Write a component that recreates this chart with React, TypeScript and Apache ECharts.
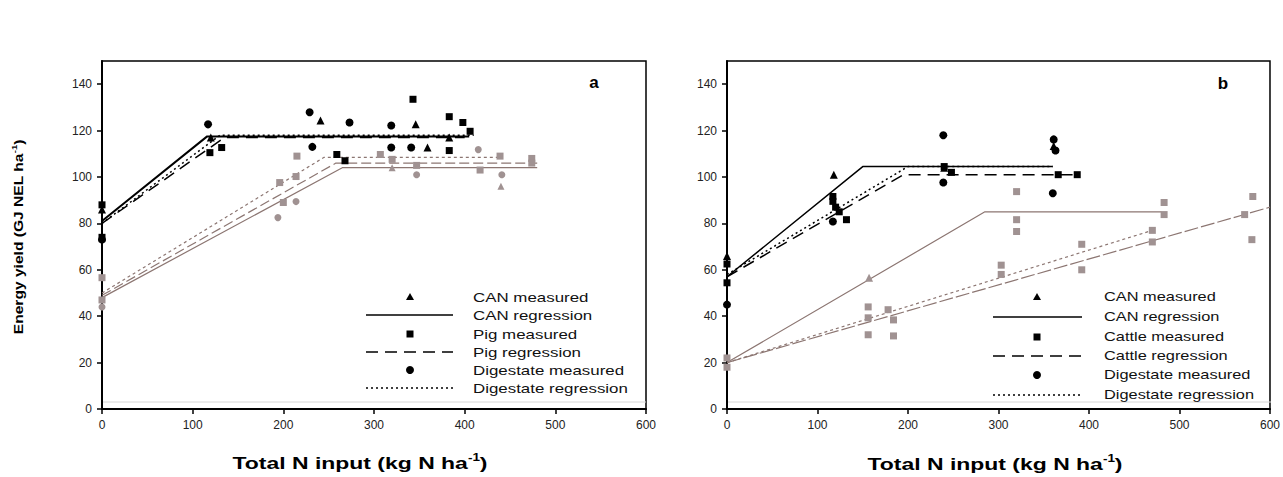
import React, { useEffect, useRef } from "react";
import * as echarts from "echarts";

type P = [number, number];

// ---------------- Panel a data ----------------
const xTicks = [0, 100, 200, 300, 400, 500, 600];
const yTicks = [0, 20, 40, 60, 80, 100, 120, 140];

const aCanMeasured: P[] = [[0, 86], [120, 117], [241, 124.4], [346, 122.7], [359, 112.7], [383, 117]];
const aPigMeasured: P[] = [[0, 88], [0, 74], [119, 110.5], [132, 112.7], [259, 109.7], [268, 107], [343, 133.5], [383, 126], [398, 123.5], [406, 119.7], [383, 111.4]];
const aDigMeasured: P[] = [[0, 73], [117, 122.7], [229, 127.9], [232, 113], [273, 123.5], [319, 122.2], [319, 112.7], [341, 112.7]];
const aCanRegression: P[] = [[0, 81], [116, 117.5], [405, 117.5]];
const aPigRegression: P[] = [[0, 80], [135, 117], [400, 117]];
const aDigRegression: P[] = [[0, 80], [130, 118], [410, 118]];

const aGraySquares: P[] = [[0, 56.6], [0, 47], [196, 97.6], [214, 100.2], [215, 109], [200, 89], [307, 109.7], [320, 107.6], [347, 105], [417, 103], [439, 109], [474, 108], [474, 106]];
const aGrayCircles: P[] = [[0, 44], [194, 82.5], [214, 89.4], [347, 101], [441, 101], [415, 111.8]];
const aGrayTriangles: P[] = [[440, 96], [320, 104]];
const aGraySolid: P[] = [[0, 48], [265, 104], [480, 104]];
const aGrayDashed: P[] = [[0, 49], [258, 106], [480, 106]];
const aGrayDotted: P[] = [[0, 50], [245, 108.5], [440, 108.5]];

// ---------------- Panel b data ----------------
const bCanMeasured: P[] = [[0, 66], [118, 101], [240, 104], [361, 113.4]];
const bCattleMeasured: P[] = [[0, 62.5], [0, 54.4], [117, 91.6], [117, 89.5], [120, 87], [124, 85], [132, 81.6], [240, 104.5], [248, 102], [366, 101], [387, 101]];
const bDigMeasured: P[] = [[0, 45], [117, 80.8], [239, 118], [239, 97.6], [361, 116.2], [363, 111.4], [360, 93]];
const bCanRegression: P[] = [[0, 57], [150, 104.5], [360, 104.5]];
const bCattleRegression: P[] = [[0, 57], [195, 101], [385, 101]];
const bDigRegression: P[] = [[0, 58], [200, 104.5], [360, 104.5]];

const bGraySquares: P[] = [[0, 22], [0, 18], [156, 44], [156, 39.3], [156, 32], [178, 42.8], [184, 38.4], [184, 31.5], [320, 93.7], [320, 81.6], [320, 76.5], [303, 62], [303, 58], [392, 71], [392, 60], [470, 77], [470, 72], [483, 89], [483, 83.8], [581, 91.6], [572, 83.8], [603, 87], [580, 73]];
const bGrayTriangles: P[] = [[157, 56.6]];
const bGraySolid: P[] = [[0, 20], [285, 85], [480, 85]];
const bGrayDotted: P[] = [[0, 20], [470, 77]];
const bGrayDashed: P[] = [[0, 20], [600, 87]];

const legendA = ["CAN measured", "CAN regression", "Pig measured", "Pig regression", "Digestate measured", "Digestate regression"];
const legendB = ["CAN measured", "CAN regression", "Cattle measured", "Cattle regression", "Digestate measured", "Digestate regression"];
const legendKinds = ["triangle", "solid", "square", "dashed", "circle", "dotted"];

const FONT = '"Liberation Sans", Arial, sans-serif';
const BLACK = "#000";
const GRAY_PT = "#a09292";
const GRAY_LN = "#8c7672";

function scatter(name: string, data: P[], symbol: string, color: string, idx: number, size = 8) {
  return {
    name,
    type: "scatter",
    xAxisIndex: idx,
    yAxisIndex: idx,
    data,
    symbol,
    symbolSize: size,
    itemStyle: { color, opacity: 1 },
    z: 3,
  };
}

function line(name: string, data: P[], dash: any, color: string, idx: number, width = 1.5) {
  return {
    name,
    type: "line",
    xAxisIndex: idx,
    yAxisIndex: idx,
    data,
    symbol: "none",
    lineStyle: { color, width, type: dash },
    z: 2,
  };
}

function legendGraphic(lineX1: number, lineX2: number, symX: number, textX: number, rows: number[], labels: string[], sx: number) {
  const els: any[] = [];
  labels.forEach((lab, i) => {
    const y = rows[i];
    const kind = legendKinds[i];
    if (kind === "triangle") {
      els.push({ type: "polygon", shape: { points: [[symX, y - 4], [symX - 4, y + 3], [symX + 4, y + 3]] }, style: { fill: BLACK } });
    } else if (kind === "square") {
      els.push({ type: "rect", shape: { x: symX - 3.5, y: y - 3.5, width: 7, height: 7 }, style: { fill: BLACK } });
    } else if (kind === "circle") {
      els.push({ type: "circle", shape: { cx: symX, cy: y, r: 4 }, style: { fill: BLACK } });
    } else {
      const dash = kind === "solid" ? null : kind === "dashed" ? [12, 7] : [2, 3];
      els.push({ type: "line", shape: { x1: lineX1, y1: y, x2: lineX2, y2: y }, style: { stroke: BLACK, lineWidth: 1.5, lineDash: dash } });
    }
    els.push({
      type: "text",
      x: textX,
      y,
      scaleX: sx,
      style: { text: lab, fontSize: 13, fontFamily: FONT, fill: "#111", align: "left", verticalAlign: "middle" },
    });
  });
  return els;
}

function axisTitle(x: number, y: number, text: string, rotation = 0, sx = 1.35, size = 17) {
  return {
    type: "text",
    x,
    y,
    rotation,
    scaleX: sx,
    style: {
      text: `{a|${text}}{s|-1}{a|)}`,
      align: "center",
      verticalAlign: "middle",
      rich: {
        a: { fontSize: size, fontWeight: "bold", fontFamily: FONT, fill: "#000", lineHeight: size + 3 },
        s: { fontSize: Math.round(size * 0.6), fontWeight: "bold", fontFamily: FONT, fill: "#000", verticalAlign: "top", lineHeight: size + 3 },
      },
    },
  };
}

export default function App() {
  const ref = useRef<HTMLDivElement>(null);
  useEffect(() => {
    if (!ref.current) return;
    const chart = echarts.init(ref.current, null, { renderer: "svg" });

    const xAxis = (gi: number) => ({
      type: "value",
      gridIndex: gi,
      min: xTicks[0],
      max: xTicks[xTicks.length - 1],
      interval: xTicks[1] - xTicks[0],
      splitLine: { show: false },
      axisLine: { show: true, onZero: false, lineStyle: { color: "#000", width: 2 } },
      axisTick: { show: true, length: 5, lineStyle: { color: "#000", width: 1.5 } },
      axisLabel: { fontSize: 12, fontFamily: FONT, color: "#222", margin: 10 },
    });
    const yAxis = (gi: number) => ({
      type: "value",
      gridIndex: gi,
      min: yTicks[0],
      max: 150,
      interval: yTicks[1] - yTicks[0],
      splitLine: { show: false },
      axisLine: { show: true, onZero: false, lineStyle: { color: "#000", width: 2 } },
      axisTick: { show: true, length: 5, lineStyle: { color: "#000", width: 1.5 } },
      axisLabel: { fontSize: 12, fontFamily: FONT, color: "#222", margin: 10, showMaxLabel: false },
    });

    chart.setOption({
      animation: false,
      backgroundColor: "#fff",
      grid: [
        { left: 102, right: 637, top: 61, bottom: 68, show: true, borderColor: "#000", borderWidth: 1.5, backgroundColor: "transparent" },
        { left: 727, right: 12, top: 61, bottom: 68, show: true, borderColor: "#000", borderWidth: 1.5, backgroundColor: "transparent" },
      ],
      xAxis: [xAxis(0), xAxis(1)],
      yAxis: [yAxis(0), yAxis(1)],
      series: [
        line("Gray solid a", aGraySolid, "solid", GRAY_LN, 0, 1.2),
        line("Gray dashed a", aGrayDashed, [10, 4], GRAY_LN, 0, 1.2),
        line("Gray dotted a", aGrayDotted, [3, 3], GRAY_LN, 0, 1.2),
        scatter("Gray squares a", aGraySquares, "rect", GRAY_PT, 0, 7),
        scatter("Gray circles a", aGrayCircles, "circle", GRAY_PT, 0, 7),
        scatter("Gray triangles a", aGrayTriangles, "triangle", GRAY_PT, 0, 7),
        line("CAN regression", aCanRegression, "solid", BLACK, 0, 2),
        line("Pig regression", aPigRegression, [12, 7], BLACK, 0, 1.5),
        line("Digestate regression", aDigRegression, [2, 3], BLACK, 0, 1.5),
        scatter("CAN measured", aCanMeasured, "triangle", BLACK, 0),
        scatter("Pig measured", aPigMeasured, "rect", BLACK, 0, 7),
        scatter("Digestate measured", aDigMeasured, "circle", BLACK, 0),

        line("Gray solid b", bGraySolid, "solid", GRAY_LN, 1, 1.2),
        line("Gray dotted b", bGrayDotted, [3, 3], GRAY_LN, 1, 1.2),
        line("Gray dashed b", bGrayDashed, [14, 3], GRAY_LN, 1, 1.2),
        scatter("Gray squares b", bGraySquares, "rect", GRAY_PT, 1, 7),
        scatter("Gray triangles b", bGrayTriangles, "triangle", GRAY_PT, 1, 8),
        line("CAN regression b", bCanRegression, "solid", BLACK, 1, 1.5),
        line("Cattle regression", bCattleRegression, [12, 7], BLACK, 1, 1.5),
        line("Digestate regression b", bDigRegression, [2, 3], BLACK, 1, 1.5),
        scatter("CAN measured b", bCanMeasured, "triangle", BLACK, 1),
        scatter("Cattle measured", bCattleMeasured, "rect", BLACK, 1, 7),
        scatter("Digestate measured b", bDigMeasured, "circle", BLACK, 1),
      ],
      graphic: [
        { type: "line", shape: { x1: 102, y1: 402, x2: 646, y2: 402 }, style: { stroke: "#d6d6d6", lineWidth: 1 }, silent: true },
        { type: "line", shape: { x1: 727, y1: 402, x2: 1271, y2: 402 }, style: { stroke: "#d6d6d6", lineWidth: 1 }, silent: true },
        ...legendGraphic(366, 453, 410, 473, [297, 315, 334, 352, 370, 388], legendA, 1.3),
        ...legendGraphic(993, 1082, 1037, 1104, [297, 317, 337, 356, 375, 395], legendB, 1.26),
        { type: "text", x: 594, y: 82, style: { text: "a", fontSize: 17, fontWeight: "bold", fontFamily: FONT, fill: "#000", align: "center", verticalAlign: "middle" } },
        { type: "text", x: 1223, y: 83, style: { text: "b", fontSize: 17, fontWeight: "bold", fontFamily: FONT, fill: "#000", align: "center", verticalAlign: "middle" } },
        axisTitle(360, 463, "Total N input (kg N ha"),
        axisTitle(995, 464, "Total N input (kg N ha"),
        axisTitle(18, 237, "Energy yield (GJ NEL ha", Math.PI / 2, 1.2, 13),
      ],
    });
    return () => chart.dispose();
  }, []);
  return <div ref={ref} style={{ position: "fixed", left: 0, top: 0, width: 1283, height: 477, background: "#fff" }} />;
}
